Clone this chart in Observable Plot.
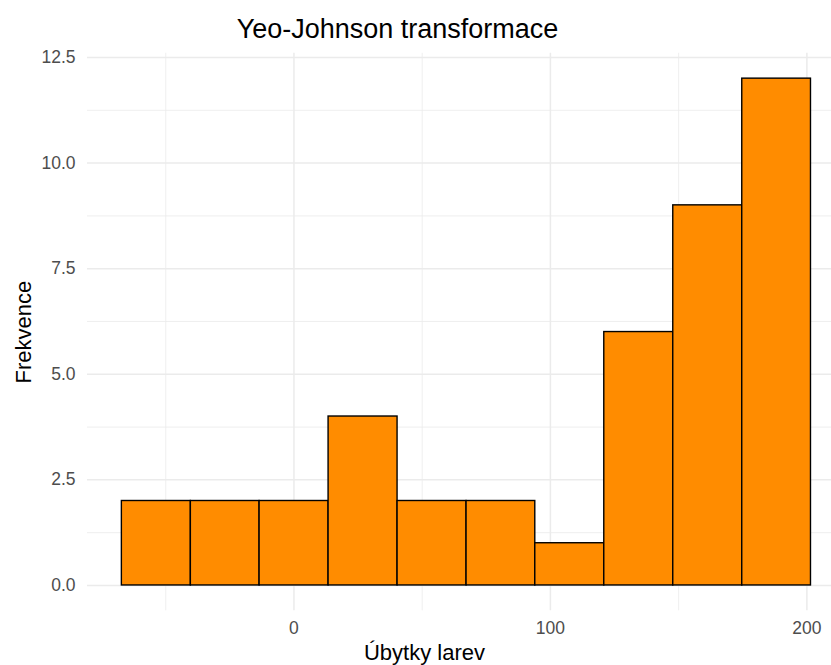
<!DOCTYPE html>
<html>
<head>
<meta charset="utf-8">
<script src="https://cdn.jsdelivr.net/npm/d3@7"></script>
<script src="https://cdn.jsdelivr.net/npm/@observablehq/plot@0.6"></script>
<style>
  html, body { margin: 0; padding: 0; background: #ffffff; }
  #chart svg { display: block; }
</style>
</head>
<body>
<div id="chart"></div>
<script>
// ---- data ----
const titleText = "Yeo-Johnson transformace";
const xLabel = "Úbytky larev";
const yLabel = "Frekvence";
const counts = [2, 2, 2, 4, 2, 2, 1, 6, 9, 12];
const binEdges = [-67.1, -40.2, -13.4, 13.5, 40.4, 67.3, 94.1, 121.0, 147.9, 174.8, 201.6];
const xTicks = [0, 100, 200];
const xMinorTicks = [-50, 50, 150];
const yTicks = [0, 2.5, 5, 7.5, 10, 12.5];
const yMinorTicks = [1.25, 3.75, 6.25, 8.75, 11.25];

const bins = counts.map((c, i) => ({x1: binEdges[i], x2: binEdges[i + 1], count: c}));

const grid = "#ebebeb";
const font = "'Liberation Sans', Arial, Helvetica, sans-serif";

const chart = Plot.plot({
  width: 831,
  height: 665,
  marginTop: 52.8,
  marginBottom: 54.7,
  marginLeft: 87,
  marginRight: 0,
  style: {fontFamily: font, background: "#ffffff"},
  x: {domain: [-80.5, 209.6]},
  y: {domain: [-0.6, 12.6]},
  marks: [
    Plot.gridY(yMinorTicks, {stroke: grid, strokeOpacity: 1, strokeWidth: 0.8}),
    Plot.gridX(xMinorTicks, {stroke: grid, strokeOpacity: 1, strokeWidth: 0.8}),
    Plot.gridY(yTicks, {stroke: grid, strokeOpacity: 1, strokeWidth: 1.5}),
    Plot.gridX(xTicks, {stroke: grid, strokeOpacity: 1, strokeWidth: 1.5}),
    Plot.rectY(bins, {x1: "x1", x2: "x2", y1: 0, y2: "count", fill: "#FF8C00", stroke: "#000000", strokeWidth: 1.4}),
    Plot.axisY(yTicks, {tickSize: 0, tickPadding: 12, tickFormat: d3.format(".1f"), fontSize: 17.5, fill: "#4d4d4d", label: null}),
    Plot.axisX(xTicks, {tickSize: 0, tickPadding: 11, tickFormat: d => String(d), fontSize: 17.5, fill: "#4d4d4d", label: null}),
    Plot.text([titleText], {frameAnchor: "top", lineAnchor: "bottom", dy: -15.8, dx: -62, fontSize: 27, fill: "#000000"}),
    Plot.text([xLabel], {frameAnchor: "bottom", lineAnchor: "bottom", dy: 49, dx: -35, fontSize: 22, fill: "#000000"}),
    Plot.text([yLabel], {frameAnchor: "left", textAnchor: "middle", lineAnchor: "middle", rotate: -90, dx: -64, fontSize: 22, fill: "#000000"})
  ]
});
document.getElementById("chart").appendChild(chart);
</script>
</body>
</html>
